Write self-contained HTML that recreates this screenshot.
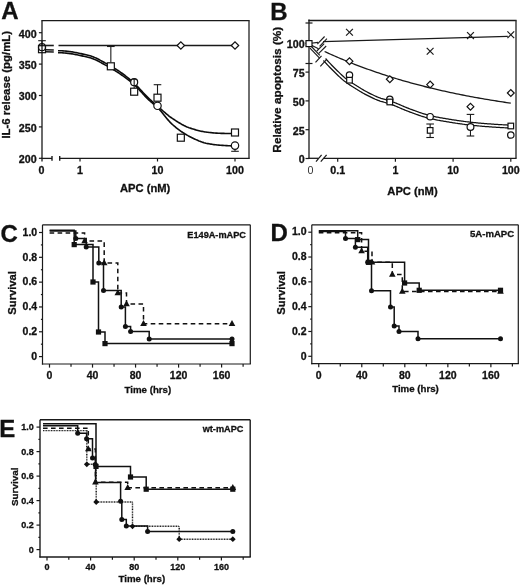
<!DOCTYPE html>
<html><head><meta charset="utf-8"><style>
html,body{margin:0;padding:0;background:#fff;}
svg{display:block;font-family:"Liberation Sans", sans-serif;filter:grayscale(1);}
</style></head><body>
<svg width="520" height="587" viewBox="0 0 520 587" font-family='"Liberation Sans", sans-serif'>
<rect width="520" height="587" fill="#fff"/>
<text x="1.20" y="19.40" font-size="24" text-anchor="start" font-weight="bold" fill="#111" stroke="#111" stroke-width="0.3" >A</text>
<line x1="41.40" y1="20.60" x2="249.60" y2="20.60" stroke="#1a1a1a" stroke-width="1.35" />
<line x1="249.00" y1="20.60" x2="249.00" y2="158.40" stroke="#333" stroke-width="1.4" />
<line x1="42.00" y1="20.60" x2="42.00" y2="161.50" stroke="#1a1a1a" stroke-width="1.3" />
<line x1="41.40" y1="158.40" x2="52.00" y2="158.40" stroke="#1a1a1a" stroke-width="1.3" />
<line x1="52.00" y1="156.00" x2="52.00" y2="160.80" stroke="#1a1a1a" stroke-width="1.4" />
<line x1="59.70" y1="158.40" x2="249.70" y2="158.40" stroke="#1a1a1a" stroke-width="1.3" />
<line x1="59.70" y1="156.00" x2="59.70" y2="160.80" stroke="#1a1a1a" stroke-width="1.4" />
<line x1="38.90" y1="32.70" x2="42.00" y2="32.70" stroke="#1a1a1a" stroke-width="1.2" />
<text x="36.60" y="37.60" font-size="10.7" text-anchor="end" font-weight="bold" fill="#111" stroke="#111" stroke-width="0.3" >400</text>
<line x1="38.90" y1="64.10" x2="42.00" y2="64.10" stroke="#1a1a1a" stroke-width="1.2" />
<text x="36.60" y="69.00" font-size="10.7" text-anchor="end" font-weight="bold" fill="#111" stroke="#111" stroke-width="0.3" >350</text>
<line x1="38.90" y1="95.50" x2="42.00" y2="95.50" stroke="#1a1a1a" stroke-width="1.2" />
<text x="36.60" y="100.40" font-size="10.7" text-anchor="end" font-weight="bold" fill="#111" stroke="#111" stroke-width="0.3" >300</text>
<line x1="38.90" y1="126.90" x2="42.00" y2="126.90" stroke="#1a1a1a" stroke-width="1.2" />
<text x="36.60" y="131.80" font-size="10.7" text-anchor="end" font-weight="bold" fill="#111" stroke="#111" stroke-width="0.3" >250</text>
<line x1="38.90" y1="158.30" x2="42.00" y2="158.30" stroke="#1a1a1a" stroke-width="1.2" />
<text x="36.60" y="163.20" font-size="10.7" text-anchor="end" font-weight="bold" fill="#111" stroke="#111" stroke-width="0.3" >200</text>
<line x1="80.00" y1="158.40" x2="80.00" y2="161.50" stroke="#1a1a1a" stroke-width="1.2" />
<text x="80.00" y="173.80" font-size="10.7" text-anchor="middle" font-weight="bold" fill="#111" stroke="#111" stroke-width="0.3" >1</text>
<line x1="157.50" y1="158.40" x2="157.50" y2="161.50" stroke="#1a1a1a" stroke-width="1.2" />
<text x="157.50" y="173.80" font-size="10.7" text-anchor="middle" font-weight="bold" fill="#111" stroke="#111" stroke-width="0.3" >10</text>
<line x1="235.00" y1="158.40" x2="235.00" y2="161.50" stroke="#1a1a1a" stroke-width="1.2" />
<text x="235.00" y="173.80" font-size="10.7" text-anchor="middle" font-weight="bold" fill="#111" stroke="#111" stroke-width="0.3" >100</text>
<text x="41.60" y="173.80" font-size="10.7" text-anchor="middle" font-weight="bold" fill="#111" stroke="#111" stroke-width="0.3" >0</text>
<text x="145.20" y="192.20" font-size="11.2" text-anchor="middle" font-weight="bold" fill="#111" stroke="#111" stroke-width="0.3" >APC (nM)</text>
<text transform="translate(9.50,84.80) rotate(-90)" font-size="11.4" text-anchor="middle" font-weight="bold" fill="#111" stroke="#111" stroke-width="0.3">IL-6 release (pg/mL)</text>
<polyline points="58.00,50.70 59.00,50.71 60.00,50.73 61.00,50.76 62.00,50.81 63.00,50.87 64.00,50.94 65.00,51.03 66.00,51.12 67.00,51.23 68.00,51.35 69.00,51.47 70.00,51.61 71.00,51.76 72.00,51.91 73.00,52.08 74.00,52.25 75.00,52.43 76.00,52.62 77.00,52.81 78.00,53.01 79.00,53.22 80.00,53.43 81.00,53.65 82.00,53.88 83.00,54.11 84.00,54.34 85.00,54.57 86.00,54.81 87.00,55.06 88.00,55.30 89.00,55.55 90.00,55.80 91.00,56.09 92.00,56.42 93.00,56.79 94.00,57.19 95.00,57.62 96.00,58.08 97.00,58.56 98.00,59.06 99.00,59.58 100.00,60.11 101.00,60.65 102.00,61.19 103.00,61.74 104.00,62.29 105.00,62.83 106.00,63.36 107.00,63.90 108.00,64.45 109.00,65.00 110.00,65.57 111.00,66.15 112.00,66.74 113.00,67.34 114.00,67.95 115.00,68.57 116.00,69.21 117.00,69.85 118.00,70.51 119.00,71.18 120.00,71.86 121.00,72.55 122.00,73.25 123.00,73.98 124.00,74.72 125.00,75.48 126.00,76.26 127.00,77.05 128.00,77.86 129.00,78.69 130.00,79.54 131.00,80.40 132.00,81.27 133.00,82.16 134.00,83.07 135.00,84.00 136.00,84.97 137.00,85.98 138.00,87.02 139.00,88.08 140.00,89.17 141.00,90.26 142.00,91.36 143.00,92.45 144.00,93.54 145.00,94.61 146.00,95.65 147.00,96.67 148.00,97.65 149.00,98.60 150.00,99.53 151.00,100.45 152.00,101.36 153.00,102.25 154.00,103.14 155.00,104.01 156.00,104.88 157.00,105.75 158.00,106.61 159.00,107.47 160.00,108.34 161.00,109.22 162.00,110.10 163.00,110.98 164.00,111.85 165.00,112.71 166.00,113.57 167.00,114.40 168.00,115.22 169.00,116.01 170.00,116.77 171.00,117.50 172.00,118.20 173.00,118.86 174.00,119.52 175.00,120.18 176.00,120.82 177.00,121.46 178.00,122.08 179.00,122.70 180.00,123.29 181.00,123.87 182.00,124.44 183.00,124.98 184.00,125.50 185.00,125.99 186.00,126.46 187.00,126.90 188.00,127.31 189.00,127.69 190.00,128.04 191.00,128.37 192.00,128.70 193.00,129.02 194.00,129.33 195.00,129.63 196.00,129.92 197.00,130.19 198.00,130.46 199.00,130.71 200.00,130.95 201.00,131.18 202.00,131.39 203.00,131.59 204.00,131.77 205.00,131.93 206.00,132.08 207.00,132.21 208.00,132.33 209.00,132.45 210.00,132.56 211.00,132.66 212.00,132.76 213.00,132.86 214.00,132.94 215.00,133.02 216.00,133.10 217.00,133.16 218.00,133.22 219.00,133.26 220.00,133.30 221.00,133.33 222.00,133.36 223.00,133.39 224.00,133.42 225.00,133.45 226.00,133.48 227.00,133.50 228.00,133.52 229.00,133.54 230.00,133.56 231.00,133.57 232.00,133.58 233.00,133.59 234.00,133.60 235.00,133.60" fill="none" stroke="#0d0d0d" stroke-width="1.6" stroke-linejoin="round"/>
<polyline points="58.00,52.70 59.00,52.71 60.00,52.73 61.00,52.76 62.00,52.81 63.00,52.87 64.00,52.94 65.00,53.03 66.00,53.12 67.00,53.23 68.00,53.35 69.00,53.47 70.00,53.61 71.00,53.76 72.00,53.91 73.00,54.08 74.00,54.25 75.00,54.43 76.00,54.62 77.00,54.81 78.00,55.01 79.00,55.22 80.00,55.43 81.00,55.65 82.00,55.88 83.00,56.11 84.00,56.34 85.00,56.57 86.00,56.81 87.00,57.06 88.00,57.30 89.00,57.55 90.00,57.80 91.00,58.09 92.00,58.42 93.00,58.79 94.00,59.19 95.00,59.62 96.00,60.08 97.00,60.56 98.00,61.06 99.00,61.58 100.00,62.11 101.00,62.65 102.00,63.19 103.00,63.74 104.00,64.29 105.00,64.83 106.00,65.36 107.00,65.90 108.00,66.45 109.00,67.01 110.00,67.59 111.00,68.17 112.00,68.76 113.00,69.37 114.00,69.98 115.00,70.61 116.00,71.24 117.00,71.89 118.00,72.54 119.00,73.21 120.00,73.88 121.00,74.56 122.00,75.25 123.00,75.94 124.00,76.65 125.00,77.38 126.00,78.11 127.00,78.86 128.00,79.62 129.00,80.40 130.00,81.20 131.00,82.01 132.00,82.85 133.00,83.70 134.00,84.57 135.00,85.48 136.00,86.43 137.00,87.43 138.00,88.47 139.00,89.53 140.00,90.62 141.00,91.72 142.00,92.82 143.00,93.92 144.00,95.02 145.00,96.09 146.00,97.15 147.00,98.17 148.00,99.15 149.00,100.09 150.00,100.99 151.00,101.87 152.00,102.73 153.00,103.58 154.00,104.43 155.00,105.30 156.00,106.18 157.00,107.10 158.00,108.05 159.00,109.06 160.00,110.14 161.00,111.29 162.00,112.47 163.00,113.70 164.00,114.94 165.00,116.20 166.00,117.45 167.00,118.68 168.00,119.88 169.00,121.04 170.00,122.15 171.00,123.18 172.00,124.13 173.00,125.01 174.00,125.86 175.00,126.70 176.00,127.51 177.00,128.31 178.00,129.08 179.00,129.84 180.00,130.57 181.00,131.28 182.00,131.97 183.00,132.64 184.00,133.29 185.00,133.92 186.00,134.52 187.00,135.10 188.00,135.66 189.00,136.19 190.00,136.70 191.00,137.21 192.00,137.71 193.00,138.20 194.00,138.69 195.00,139.16 196.00,139.63 197.00,140.08 198.00,140.51 199.00,140.93 200.00,141.32 201.00,141.70 202.00,142.06 203.00,142.38 204.00,142.69 205.00,142.96 206.00,143.21 207.00,143.42 208.00,143.61 209.00,143.80 210.00,143.98 211.00,144.14 212.00,144.30 213.00,144.45 214.00,144.59 215.00,144.71 216.00,144.83 217.00,144.94 218.00,145.04 219.00,145.12 220.00,145.20 221.00,145.27 222.00,145.34 223.00,145.41 224.00,145.47 225.00,145.54 226.00,145.60 227.00,145.66 228.00,145.71 229.00,145.76 230.00,145.80 231.00,145.83 232.00,145.86 233.00,145.88 234.00,145.90 235.00,145.90" fill="none" stroke="#0d0d0d" stroke-width="1.6" stroke-linejoin="round"/>
<line x1="45.50" y1="49.70" x2="53.80" y2="50.00" stroke="#1a1a1a" stroke-width="1.5" />
<line x1="45.50" y1="51.70" x2="53.80" y2="52.00" stroke="#1a1a1a" stroke-width="1.5" />
<line x1="45.50" y1="45.50" x2="53.80" y2="45.50" stroke="#1a1a1a" stroke-width="1.6" />
<line x1="58.50" y1="45.50" x2="235.00" y2="45.50" stroke="#1a1a1a" stroke-width="1.6" />
<line x1="110.84" y1="62.50" x2="110.84" y2="46.50" stroke="#1a1a1a" stroke-width="1.1" />
<line x1="107.04" y1="46.50" x2="114.64" y2="46.50" stroke="#1a1a1a" stroke-width="1.1" />
<line x1="157.50" y1="94.50" x2="157.50" y2="84.70" stroke="#1a1a1a" stroke-width="1.1" />
<line x1="153.70" y1="84.70" x2="161.30" y2="84.70" stroke="#1a1a1a" stroke-width="1.1" />
<line x1="42.00" y1="46.00" x2="42.00" y2="40.70" stroke="#1a1a1a" stroke-width="1.1" />
<line x1="38.20" y1="40.70" x2="45.80" y2="40.70" stroke="#1a1a1a" stroke-width="1.1" />
<line x1="235.00" y1="148.00" x2="235.00" y2="151.30" stroke="#1a1a1a" stroke-width="1.1" />
<line x1="231.20" y1="151.30" x2="238.80" y2="151.30" stroke="#1a1a1a" stroke-width="1.1" />
<path d="M177.13,45.50 L180.83,41.80 L184.53,45.50 L180.83,49.20 Z" fill="#fff" stroke="#111" stroke-width="1.2"/>
<path d="M231.30,45.50 L235.00,41.80 L238.70,45.50 L235.00,49.20 Z" fill="#fff" stroke="#111" stroke-width="1.2"/>
<circle cx="42.00" cy="47.20" r="3.5" fill="none" stroke="#111" stroke-width="1.2"/>
<rect x="38.50" y="45.70" width="7" height="7" fill="none" stroke="#111" stroke-width="1.2"/>
<rect x="107.34" y="62.80" width="7" height="7" fill="#fff" stroke="#111" stroke-width="1.2"/>
<circle cx="134.17" cy="82.20" r="3.5" fill="#fff" stroke="#111" stroke-width="1.2"/>
<rect x="130.67" y="88.20" width="7" height="7" fill="#fff" stroke="#111" stroke-width="1.2"/>
<line x1="134.17" y1="88.20" x2="134.17" y2="79.20" stroke="#1a1a1a" stroke-width="1.1" />
<line x1="132.37" y1="79.20" x2="135.97" y2="79.20" stroke="#1a1a1a" stroke-width="1.1" />
<rect x="154.00" y="94.20" width="7" height="7" fill="#fff" stroke="#111" stroke-width="1.2"/>
<circle cx="157.50" cy="105.80" r="3.7" fill="#fff" stroke="#111" stroke-width="1.2"/>
<rect x="177.33" y="134.20" width="7" height="7" fill="#fff" stroke="#111" stroke-width="1.2"/>
<rect x="231.50" y="129.00" width="7" height="7" fill="#fff" stroke="#111" stroke-width="1.2"/>
<circle cx="235.00" cy="145.60" r="3.7" fill="#fff" stroke="#111" stroke-width="1.2"/>
<text x="270.20" y="19.90" font-size="24" text-anchor="start" font-weight="bold" fill="#111" stroke="#111" stroke-width="0.3" >B</text>
<line x1="308.40" y1="20.50" x2="516.60" y2="20.50" stroke="#1a1a1a" stroke-width="1.35" />
<line x1="516.00" y1="20.50" x2="516.00" y2="158.30" stroke="#333" stroke-width="1.4" />
<line x1="309.00" y1="19.50" x2="309.00" y2="158.90" stroke="#1a1a1a" stroke-width="1.3" />
<line x1="308.40" y1="158.30" x2="318.50" y2="158.30" stroke="#1a1a1a" stroke-width="1.3" />
<line x1="323.50" y1="158.30" x2="516.60" y2="158.30" stroke="#1a1a1a" stroke-width="1.3" />
<line x1="316.00" y1="161.70" x2="321.60" y2="154.80" stroke="#1a1a1a" stroke-width="1.2" />
<line x1="320.80" y1="161.70" x2="326.60" y2="154.80" stroke="#1a1a1a" stroke-width="1.2" />
<line x1="305.50" y1="158.50" x2="309.00" y2="158.50" stroke="#1a1a1a" stroke-width="1.2" />
<text x="304.60" y="163.40" font-size="10.7" text-anchor="end" font-weight="bold" fill="#111" stroke="#111" stroke-width="0.3" >0</text>
<line x1="305.50" y1="129.70" x2="309.00" y2="129.70" stroke="#1a1a1a" stroke-width="1.2" />
<text x="304.60" y="134.60" font-size="10.7" text-anchor="end" font-weight="bold" fill="#111" stroke="#111" stroke-width="0.3" >25</text>
<line x1="305.50" y1="100.90" x2="309.00" y2="100.90" stroke="#1a1a1a" stroke-width="1.2" />
<text x="304.60" y="105.80" font-size="10.7" text-anchor="end" font-weight="bold" fill="#111" stroke="#111" stroke-width="0.3" >50</text>
<line x1="305.50" y1="72.10" x2="309.00" y2="72.10" stroke="#1a1a1a" stroke-width="1.2" />
<text x="304.60" y="77.00" font-size="10.7" text-anchor="end" font-weight="bold" fill="#111" stroke="#111" stroke-width="0.3" >75</text>
<line x1="305.50" y1="43.30" x2="309.00" y2="43.30" stroke="#1a1a1a" stroke-width="1.2" />
<text x="304.60" y="48.20" font-size="10.7" text-anchor="end" font-weight="bold" fill="#111" stroke="#111" stroke-width="0.3" >100</text>
<line x1="305.50" y1="23.00" x2="312.50" y2="23.00" stroke="#1a1a1a" stroke-width="1.2" />
<line x1="305.50" y1="63.50" x2="312.50" y2="63.50" stroke="#1a1a1a" stroke-width="1.2" />
<line x1="337.70" y1="158.30" x2="337.70" y2="161.80" stroke="#1a1a1a" stroke-width="1.2" />
<text x="337.70" y="173.80" font-size="10.7" text-anchor="middle" font-weight="bold" fill="#111" stroke="#111" stroke-width="0.3" >0.1</text>
<line x1="395.40" y1="158.30" x2="395.40" y2="161.80" stroke="#1a1a1a" stroke-width="1.2" />
<text x="395.40" y="173.80" font-size="10.7" text-anchor="middle" font-weight="bold" fill="#111" stroke="#111" stroke-width="0.3" >1</text>
<line x1="453.10" y1="158.30" x2="453.10" y2="161.80" stroke="#1a1a1a" stroke-width="1.2" />
<text x="453.10" y="173.80" font-size="10.7" text-anchor="middle" font-weight="bold" fill="#111" stroke="#111" stroke-width="0.3" >10</text>
<line x1="510.80" y1="158.30" x2="510.80" y2="161.80" stroke="#1a1a1a" stroke-width="1.2" />
<text x="510.80" y="173.80" font-size="10.7" text-anchor="middle" font-weight="bold" fill="#111" stroke="#111" stroke-width="0.3" >100</text>
<text x="310.50" y="173.60" font-size="10.7" text-anchor="middle" font-weight="normal" fill="#333" stroke="#333" stroke-width="0" >0</text>
<text x="412.50" y="195.00" font-size="11.2" text-anchor="middle" font-weight="bold" fill="#111" stroke="#111" stroke-width="0.3" >APC (nM)</text>
<text transform="translate(280.60,89.70) rotate(-90)" font-size="11.8" text-anchor="middle" font-weight="bold" fill="#111" stroke="#111" stroke-width="0.3">Relative apoptosis (%)</text>
<line x1="309.00" y1="43.50" x2="318.00" y2="42.30" stroke="#1a1a1a" stroke-width="1.2" />
<line x1="323.00" y1="41.70" x2="507.80" y2="36.40" stroke="#1a1a1a" stroke-width="1.3" />
<line x1="317.30" y1="44.20" x2="324.60" y2="36.50" stroke="#1a1a1a" stroke-width="1.1" />
<line x1="319.60" y1="46.40" x2="326.90" y2="38.70" stroke="#1a1a1a" stroke-width="1.1" />
<line x1="309.00" y1="44.00" x2="318.50" y2="48.80" stroke="#1a1a1a" stroke-width="1.2" />
<line x1="316.80" y1="51.00" x2="324.20" y2="43.60" stroke="#1a1a1a" stroke-width="1.1" />
<line x1="318.80" y1="53.40" x2="326.20" y2="46.00" stroke="#1a1a1a" stroke-width="1.1" />
<polyline points="324.60,51.51 326.60,52.43 328.60,53.34 330.60,54.24 332.60,55.13 334.60,56.01 336.60,56.88 338.60,57.74 340.60,58.59 342.60,59.43 344.60,60.26 346.60,61.08 348.60,61.89 350.60,62.69 352.60,63.49 354.60,64.27 356.60,65.05 358.60,65.81 360.60,66.57 362.60,67.32 364.60,68.06 366.60,68.79 368.60,69.51 370.60,70.22 372.60,70.93 374.60,71.63 376.60,72.31 378.60,72.99 380.60,73.66 382.60,74.33 384.60,74.98 386.60,75.63 388.60,76.27 390.60,76.90 392.60,77.52 394.60,78.14 396.60,78.75 398.60,79.35 400.60,79.94 402.60,80.53 404.60,81.11 406.60,81.68 408.60,82.24 410.60,82.80 412.60,83.35 414.60,83.89 416.60,84.42 418.60,84.95 420.60,85.47 422.60,85.99 424.60,86.50 426.60,87.00 428.60,87.50 430.60,87.99 432.60,88.47 434.60,88.94 436.60,89.41 438.60,89.88 440.60,90.34 442.60,90.79 444.60,91.24 446.60,91.68 448.60,92.11 450.60,92.54 452.60,92.96 454.60,93.38 456.60,93.79 458.60,94.20 460.60,94.60 462.60,95.00 464.60,95.39 466.60,95.78 468.60,96.16 470.60,96.53 472.60,96.91 474.60,97.27 476.60,97.63 478.60,97.99 480.60,98.34 482.60,98.69 484.60,99.03 486.60,99.37 488.60,99.71 490.60,100.04 492.60,100.37 494.60,100.69 496.60,101.01 498.60,101.32 500.60,101.63 502.60,101.94 504.60,102.24 506.60,102.54 508.60,102.84 510.60,103.13 510.80,103.16" fill="none" stroke="#1a1a1a" stroke-width="1.3" />
<polyline points="325.58,58.53 326.57,59.63 327.57,60.72 328.56,61.80 329.56,62.86 330.55,63.91 331.54,64.95 332.54,65.98 333.53,66.99 334.52,67.99 335.52,68.98 336.51,69.95 337.52,70.94 338.51,71.91 339.51,72.88 340.50,73.83 341.49,74.77 342.48,75.69 343.46,76.57 344.44,77.43 345.42,78.25 346.39,79.02 347.36,79.76 348.34,80.47 349.32,81.15 350.30,81.81 351.29,82.46 352.28,83.09 353.27,83.71 354.27,84.33 355.27,84.96 356.27,85.59 357.27,86.21 358.27,86.84 359.26,87.46 360.26,88.07 361.25,88.68 362.24,89.27 363.23,89.86 364.22,90.43 365.21,90.99 366.19,91.53 367.17,92.06 368.16,92.57 369.16,93.08 370.15,93.58 371.14,94.07 372.13,94.56 373.12,95.04 374.11,95.50 375.10,95.95 376.08,96.39 377.06,96.81 378.04,97.21 379.02,97.59 379.99,97.96 380.96,98.30 381.93,98.61 382.90,98.90 383.88,99.17 384.87,99.44 385.87,99.71 386.88,99.98 387.90,100.26 388.92,100.56 389.95,100.89 390.98,101.24 391.99,101.60 393.01,101.97 394.02,102.36 395.04,102.76 396.05,103.17 397.06,103.58 398.06,104.00 399.07,104.43 400.07,104.86 401.07,105.29 402.07,105.72 403.07,106.15 404.07,106.57 405.06,106.99 406.05,107.40 407.04,107.81 408.03,108.20 409.02,108.59 410.00,108.96 411.00,109.32 412.00,109.69 413.00,110.05 414.00,110.42 415.00,110.78 416.00,111.15 416.99,111.51 417.99,111.87 418.98,112.22 419.97,112.56 420.97,112.90 421.96,113.24 422.95,113.56 423.93,113.87 424.92,114.18 425.91,114.47 426.89,114.75 427.87,115.02 428.85,115.27 429.84,115.51 430.83,115.74 431.82,115.97 432.81,116.19 433.80,116.41 434.80,116.62 435.79,116.82 436.78,117.02 437.77,117.21 438.77,117.40 439.76,117.59 440.76,117.77 441.75,117.95 442.75,118.12 443.75,118.30 444.74,118.47 445.74,118.63 446.74,118.80 447.73,118.96 448.73,119.13 449.73,119.29 450.73,119.45 451.73,119.61 452.73,119.77 453.72,119.92 454.72,120.08 455.72,120.23 456.72,120.38 457.71,120.53 458.71,120.68 459.71,120.82 460.70,120.96 461.70,121.10 462.69,121.24 463.69,121.37 464.69,121.50 465.68,121.63 466.68,121.75 467.67,121.87 468.67,121.99 469.66,122.10 470.66,122.21 471.65,122.32 472.65,122.43 473.65,122.53 474.65,122.63 475.64,122.73 476.64,122.83 477.64,122.92 478.63,123.02 479.63,123.11 480.63,123.20 481.63,123.29 482.62,123.37 483.62,123.46 484.62,123.54 485.61,123.62 486.61,123.70 487.61,123.77 488.61,123.85 489.60,123.92 490.60,123.99 491.60,124.06 492.60,124.13 493.60,124.19 494.60,124.26 495.59,124.33 496.59,124.39 497.59,124.45 498.59,124.51 499.59,124.58 500.58,124.63 501.58,124.69 502.58,124.75 503.58,124.80 504.58,124.86 505.57,124.91 506.57,124.96 507.57,125.01 508.57,125.05 509.56,125.10 510.56,125.14" fill="none" stroke="#111" stroke-width="1.25" stroke-linejoin="round"/>
<polyline points="323.42,60.47 324.43,61.58 325.43,62.68 326.44,63.77 327.44,64.85 328.45,65.91 329.46,66.96 330.46,68.00 331.47,69.03 332.48,70.04 333.48,71.04 334.49,72.03 335.48,73.01 336.49,73.99 337.49,74.96 338.50,75.93 339.51,76.89 340.52,77.83 341.54,78.74 342.56,79.63 343.58,80.49 344.61,81.31 345.64,82.09 346.66,82.84 347.68,83.55 348.70,84.23 349.71,84.89 350.72,85.54 351.73,86.17 352.73,86.80 353.73,87.42 354.73,88.04 355.73,88.67 356.73,89.30 357.74,89.92 358.74,90.54 359.75,91.16 360.76,91.76 361.77,92.36 362.78,92.95 363.79,93.52 364.81,94.08 365.83,94.62 366.84,95.15 367.84,95.66 368.85,96.17 369.86,96.67 370.87,97.17 371.88,97.65 372.89,98.13 373.90,98.59 374.92,99.05 375.94,99.48 376.96,99.90 377.98,100.30 379.01,100.68 380.04,101.05 381.07,101.38 382.10,101.68 383.12,101.97 384.13,102.24 385.13,102.51 386.12,102.78 387.10,103.05 388.08,103.34 389.05,103.64 390.02,103.98 391.01,104.32 391.99,104.69 392.98,105.06 393.96,105.45 394.95,105.85 395.94,106.26 396.94,106.68 397.93,107.10 398.93,107.52 399.93,107.95 400.93,108.38 401.93,108.81 402.93,109.24 403.94,109.66 404.95,110.08 405.96,110.50 406.97,110.90 407.98,111.29 409.00,111.68 410.00,112.04 411.00,112.41 412.00,112.77 413.00,113.14 414.00,113.51 415.00,113.87 416.01,114.24 417.01,114.60 418.02,114.95 419.03,115.31 420.03,115.65 421.04,115.99 422.05,116.32 423.07,116.64 424.08,116.95 425.09,117.25 426.11,117.54 427.13,117.82 428.15,118.08 429.16,118.33 430.17,118.57 431.18,118.80 432.19,119.02 433.20,119.24 434.20,119.46 435.21,119.66 436.22,119.86 437.23,120.06 438.23,120.25 439.24,120.44 440.24,120.62 441.25,120.80 442.25,120.98 443.25,121.15 444.26,121.33 445.26,121.49 446.26,121.66 447.27,121.83 448.27,121.99 449.27,122.15 450.27,122.31 451.27,122.47 452.27,122.63 453.28,122.79 454.28,122.94 455.28,123.10 456.28,123.25 457.29,123.40 458.29,123.55 459.29,123.69 460.30,123.84 461.30,123.98 462.31,124.11 463.31,124.25 464.31,124.38 465.32,124.51 466.32,124.63 467.33,124.75 468.33,124.87 469.34,124.99 470.34,125.10 471.35,125.20 472.35,125.31 473.35,125.41 474.35,125.52 475.36,125.62 476.36,125.71 477.36,125.81 478.37,125.90 479.37,126.00 480.37,126.09 481.37,126.18 482.38,126.26 483.38,126.35 484.38,126.43 485.39,126.51 486.39,126.59 487.39,126.66 488.39,126.74 489.40,126.81 490.40,126.88 491.40,126.95 492.40,127.02 493.40,127.09 494.40,127.15 495.41,127.22 496.41,127.28 497.41,127.35 498.41,127.41 499.41,127.47 500.42,127.53 501.42,127.59 502.42,127.64 503.42,127.70 504.42,127.75 505.43,127.80 506.43,127.85 507.43,127.90 508.43,127.95 509.44,127.99 510.44,128.04" fill="none" stroke="#111" stroke-width="1.25" stroke-linejoin="round"/>
<line x1="310.50" y1="45.50" x2="319.80" y2="55.40" stroke="#1a1a1a" stroke-width="1.2" />
<line x1="310.00" y1="48.20" x2="319.60" y2="58.20" stroke="#1a1a1a" stroke-width="1.2" />
<line x1="315.50" y1="62.30" x2="321.50" y2="55.80" stroke="#1a1a1a" stroke-width="1.15" />
<line x1="320.30" y1="66.40" x2="326.50" y2="59.60" stroke="#1a1a1a" stroke-width="1.15" />
<rect x="306.00" y="40.60" width="6" height="6" fill="#fff" stroke="#111" stroke-width="1.2"/>
<line x1="346.08" y1="28.90" x2="352.88" y2="35.70" stroke="#1a1a1a" stroke-width="1.2" />
<line x1="346.08" y1="35.70" x2="352.88" y2="28.90" stroke="#1a1a1a" stroke-width="1.2" />
<line x1="426.74" y1="47.90" x2="433.54" y2="54.70" stroke="#1a1a1a" stroke-width="1.2" />
<line x1="426.74" y1="54.70" x2="433.54" y2="47.90" stroke="#1a1a1a" stroke-width="1.2" />
<line x1="467.07" y1="32.20" x2="473.87" y2="39.00" stroke="#1a1a1a" stroke-width="1.2" />
<line x1="467.07" y1="39.00" x2="473.87" y2="32.20" stroke="#1a1a1a" stroke-width="1.2" />
<line x1="507.40" y1="31.40" x2="514.20" y2="38.20" stroke="#1a1a1a" stroke-width="1.2" />
<line x1="507.40" y1="38.20" x2="514.20" y2="31.40" stroke="#1a1a1a" stroke-width="1.2" />
<path d="M346.08,61.20 L349.48,57.80 L352.88,61.20 L349.48,64.60 Z" fill="#fff" stroke="#111" stroke-width="1.2"/>
<path d="M386.41,79.20 L389.81,75.80 L393.21,79.20 L389.81,82.60 Z" fill="#fff" stroke="#111" stroke-width="1.2"/>
<path d="M426.74,84.60 L430.14,81.20 L433.54,84.60 L430.14,88.00 Z" fill="#fff" stroke="#111" stroke-width="1.2"/>
<path d="M467.07,106.70 L470.47,103.30 L473.87,106.70 L470.47,110.10 Z" fill="#fff" stroke="#111" stroke-width="1.2"/>
<path d="M507.40,93.00 L510.80,89.60 L514.20,93.00 L510.80,96.40 Z" fill="#fff" stroke="#111" stroke-width="1.2"/>
<circle cx="349.48" cy="75.00" r="3.2" fill="#fff" stroke="#111" stroke-width="1.2"/>
<rect x="346.68" y="77.40" width="5.6" height="5.6" fill="#fff" stroke="#111" stroke-width="1.2"/>
<circle cx="389.81" cy="99.40" r="3.2" fill="#fff" stroke="#111" stroke-width="1.2"/>
<rect x="387.01" y="99.20" width="5.6" height="5.6" fill="#fff" stroke="#111" stroke-width="1.2"/>
<circle cx="430.14" cy="116.70" r="3.2" fill="#fff" stroke="#111" stroke-width="1.2"/>
<line x1="430.14" y1="130.40" x2="430.14" y2="124.00" stroke="#1a1a1a" stroke-width="1.1" />
<line x1="426.34" y1="124.00" x2="433.94" y2="124.00" stroke="#1a1a1a" stroke-width="1.1" />
<line x1="430.14" y1="130.40" x2="430.14" y2="137.50" stroke="#1a1a1a" stroke-width="1.1" />
<line x1="426.34" y1="137.50" x2="433.94" y2="137.50" stroke="#1a1a1a" stroke-width="1.1" />
<rect x="427.34" y="127.60" width="5.6" height="5.6" fill="#fff" stroke="#111" stroke-width="1.2"/>
<line x1="470.47" y1="127.00" x2="470.47" y2="114.40" stroke="#1a1a1a" stroke-width="1.1" />
<line x1="466.67" y1="114.40" x2="474.27" y2="114.40" stroke="#1a1a1a" stroke-width="1.1" />
<line x1="470.47" y1="127.00" x2="470.47" y2="136.00" stroke="#1a1a1a" stroke-width="1.1" />
<line x1="466.67" y1="136.00" x2="474.27" y2="136.00" stroke="#1a1a1a" stroke-width="1.1" />
<circle cx="470.47" cy="127.00" r="3.4" fill="#fff" stroke="#111" stroke-width="1.2"/>
<rect x="508.00" y="123.20" width="5.6" height="5.6" fill="#fff" stroke="#111" stroke-width="1.2"/>
<circle cx="510.80" cy="135.00" r="3.2" fill="#fff" stroke="#111" stroke-width="1.2"/>
<line x1="42.50" y1="224.80" x2="250.30" y2="224.80" stroke="#1a1a1a" stroke-width="1.2" />
<line x1="250.30" y1="224.80" x2="250.30" y2="364.00" stroke="#1a1a1a" stroke-width="1.2" />
<line x1="42.50" y1="224.80" x2="42.50" y2="364.60" stroke="#1a1a1a" stroke-width="1.2" />
<line x1="41.90" y1="364.00" x2="250.90" y2="364.00" stroke="#1a1a1a" stroke-width="1.2" />
<text x="0.50" y="241.90" font-size="24" text-anchor="start" font-weight="bold" fill="#111" stroke="#111" stroke-width="0.3" >C</text>
<line x1="39.00" y1="356.60" x2="42.50" y2="356.60" stroke="#1a1a1a" stroke-width="1.2" />
<text x="37.20" y="359.80" font-size="10.5" text-anchor="end" font-weight="bold" fill="#111" stroke="#111" stroke-width="0.3" >0</text>
<line x1="40.90" y1="344.19" x2="42.50" y2="344.19" stroke="#1a1a1a" stroke-width="1.2" />
<line x1="39.00" y1="331.78" x2="42.50" y2="331.78" stroke="#1a1a1a" stroke-width="1.2" />
<text x="37.20" y="334.98" font-size="10.5" text-anchor="end" font-weight="bold" fill="#111" stroke="#111" stroke-width="0.3" >0.2</text>
<line x1="40.90" y1="319.37" x2="42.50" y2="319.37" stroke="#1a1a1a" stroke-width="1.2" />
<line x1="39.00" y1="306.96" x2="42.50" y2="306.96" stroke="#1a1a1a" stroke-width="1.2" />
<text x="37.20" y="310.16" font-size="10.5" text-anchor="end" font-weight="bold" fill="#111" stroke="#111" stroke-width="0.3" >0.4</text>
<line x1="40.90" y1="294.55" x2="42.50" y2="294.55" stroke="#1a1a1a" stroke-width="1.2" />
<line x1="39.00" y1="282.14" x2="42.50" y2="282.14" stroke="#1a1a1a" stroke-width="1.2" />
<text x="37.20" y="285.34" font-size="10.5" text-anchor="end" font-weight="bold" fill="#111" stroke="#111" stroke-width="0.3" >0.6</text>
<line x1="40.90" y1="269.73" x2="42.50" y2="269.73" stroke="#1a1a1a" stroke-width="1.2" />
<line x1="39.00" y1="257.32" x2="42.50" y2="257.32" stroke="#1a1a1a" stroke-width="1.2" />
<text x="37.20" y="260.52" font-size="10.5" text-anchor="end" font-weight="bold" fill="#111" stroke="#111" stroke-width="0.3" >0.8</text>
<line x1="40.90" y1="244.91" x2="42.50" y2="244.91" stroke="#1a1a1a" stroke-width="1.2" />
<line x1="39.00" y1="232.50" x2="42.50" y2="232.50" stroke="#1a1a1a" stroke-width="1.2" />
<text x="37.20" y="235.70" font-size="10.5" text-anchor="end" font-weight="bold" fill="#111" stroke="#111" stroke-width="0.3" >1.0</text>
<line x1="49.50" y1="364.00" x2="49.50" y2="367.60" stroke="#1a1a1a" stroke-width="1.2" />
<text x="49.50" y="378.60" font-size="10.5" text-anchor="middle" font-weight="bold" fill="#111" stroke="#111" stroke-width="0.3" >0</text>
<line x1="71.01" y1="364.00" x2="71.01" y2="366.80" stroke="#1a1a1a" stroke-width="1.2" />
<line x1="92.52" y1="364.00" x2="92.52" y2="367.60" stroke="#1a1a1a" stroke-width="1.2" />
<text x="92.52" y="378.60" font-size="10.5" text-anchor="middle" font-weight="bold" fill="#111" stroke="#111" stroke-width="0.3" >40</text>
<line x1="114.04" y1="364.00" x2="114.04" y2="366.80" stroke="#1a1a1a" stroke-width="1.2" />
<line x1="135.55" y1="364.00" x2="135.55" y2="367.60" stroke="#1a1a1a" stroke-width="1.2" />
<text x="135.55" y="378.60" font-size="10.5" text-anchor="middle" font-weight="bold" fill="#111" stroke="#111" stroke-width="0.3" >80</text>
<line x1="157.06" y1="364.00" x2="157.06" y2="366.80" stroke="#1a1a1a" stroke-width="1.2" />
<line x1="178.57" y1="364.00" x2="178.57" y2="367.60" stroke="#1a1a1a" stroke-width="1.2" />
<text x="178.57" y="378.60" font-size="10.5" text-anchor="middle" font-weight="bold" fill="#111" stroke="#111" stroke-width="0.3" >120</text>
<line x1="200.08" y1="364.00" x2="200.08" y2="366.80" stroke="#1a1a1a" stroke-width="1.2" />
<line x1="221.60" y1="364.00" x2="221.60" y2="367.60" stroke="#1a1a1a" stroke-width="1.2" />
<text x="221.60" y="378.60" font-size="10.5" text-anchor="middle" font-weight="bold" fill="#111" stroke="#111" stroke-width="0.3" >160</text>
<line x1="243.11" y1="364.00" x2="243.11" y2="366.80" stroke="#1a1a1a" stroke-width="1.2" />
<text x="246.00" y="238.00" font-size="9.2" text-anchor="end" font-weight="bold" fill="#111" stroke="#111" stroke-width="0.3" >E149A-mAPC</text>
<text transform="translate(15.70,292.90) rotate(-90)" font-size="11.2" text-anchor="middle" font-weight="bold" fill="#111" stroke="#111" stroke-width="0.3">Survival</text>
<text x="147.90" y="392.50" font-size="9.7" text-anchor="middle" font-weight="bold" fill="#111" stroke="#111" stroke-width="0.3" >Time (hrs)</text>
<polyline points="49.60,232.90 84.60,232.90 84.60,241.00 104.20,241.00 104.20,263.00 117.80,263.00 117.80,293.00 126.50,293.00 126.50,304.00 143.50,304.00 143.50,323.80 232.00,323.80 232.00,323.80" fill="none" stroke="#111" stroke-width="1.5" stroke-dasharray="4.6,3.4"/>
<path d="M81.30,243.14 L84.60,237.20 L87.90,243.14 Z" fill="#111" stroke="none"/>
<path d="M100.90,265.14 L104.20,259.20 L107.50,265.14 Z" fill="#111" stroke="none"/>
<path d="M114.50,295.14 L117.80,289.20 L121.10,295.14 Z" fill="#111" stroke="none"/>
<path d="M123.20,306.14 L126.50,300.20 L129.80,306.14 Z" fill="#111" stroke="none"/>
<path d="M140.20,325.94 L143.50,320.00 L146.80,325.94 Z" fill="#111" stroke="none"/>
<path d="M228.70,325.94 L232.00,320.00 L235.30,325.94 Z" fill="#111" stroke="none"/>
<polyline points="49.60,231.10 75.80,231.10 75.80,238.40 86.20,238.40 86.20,246.90 98.80,246.90 98.80,263.00 103.50,263.00 103.50,290.50 121.20,290.50 121.20,307.00 125.40,307.00 125.40,326.60 130.60,326.60 130.60,331.50 149.20,331.50 149.20,339.00 232.00,339.00 232.00,339.00" fill="none" stroke="#111" stroke-width="1.5" />
<circle cx="75.80" cy="238.40" r="2.5" fill="#111" stroke="#111" stroke-width="0"/>
<circle cx="86.20" cy="246.90" r="2.5" fill="#111" stroke="#111" stroke-width="0"/>
<circle cx="98.80" cy="263.00" r="2.5" fill="#111" stroke="#111" stroke-width="0"/>
<circle cx="103.50" cy="290.50" r="2.5" fill="#111" stroke="#111" stroke-width="0"/>
<circle cx="121.20" cy="307.00" r="2.5" fill="#111" stroke="#111" stroke-width="0"/>
<circle cx="125.40" cy="326.60" r="2.5" fill="#111" stroke="#111" stroke-width="0"/>
<circle cx="130.60" cy="331.50" r="2.5" fill="#111" stroke="#111" stroke-width="0"/>
<circle cx="149.20" cy="339.00" r="2.5" fill="#111" stroke="#111" stroke-width="0"/>
<circle cx="232.00" cy="339.00" r="2.5" fill="#111" stroke="#111" stroke-width="0"/>
<polyline points="49.60,230.20 74.20,230.20 74.20,244.60 93.00,244.60 93.00,282.00 98.50,282.00 98.50,332.00 105.00,332.00 105.00,343.60 232.00,343.60 232.00,343.60" fill="none" stroke="#111" stroke-width="1.5" />
<rect x="71.60" y="242.00" width="5.2" height="5.2" fill="#111" stroke="#111" stroke-width="0"/>
<rect x="90.40" y="279.40" width="5.2" height="5.2" fill="#111" stroke="#111" stroke-width="0"/>
<rect x="95.90" y="329.40" width="5.2" height="5.2" fill="#111" stroke="#111" stroke-width="0"/>
<rect x="102.40" y="341.00" width="5.2" height="5.2" fill="#111" stroke="#111" stroke-width="0"/>
<rect x="229.40" y="341.00" width="5.2" height="5.2" fill="#111" stroke="#111" stroke-width="0"/>
<line x1="311.80" y1="224.80" x2="518.30" y2="224.80" stroke="#1a1a1a" stroke-width="1.2" />
<line x1="518.30" y1="224.80" x2="518.30" y2="363.70" stroke="#1a1a1a" stroke-width="1.2" />
<line x1="311.80" y1="224.80" x2="311.80" y2="364.30" stroke="#1a1a1a" stroke-width="1.2" />
<line x1="311.20" y1="363.70" x2="518.90" y2="363.70" stroke="#1a1a1a" stroke-width="1.2" />
<text x="270.50" y="241.20" font-size="24" text-anchor="start" font-weight="bold" fill="#111" stroke="#111" stroke-width="0.3" >D</text>
<line x1="308.30" y1="356.30" x2="311.80" y2="356.30" stroke="#1a1a1a" stroke-width="1.2" />
<text x="306.60" y="359.50" font-size="10.5" text-anchor="end" font-weight="bold" fill="#111" stroke="#111" stroke-width="0.3" >0</text>
<line x1="310.20" y1="343.89" x2="311.80" y2="343.89" stroke="#1a1a1a" stroke-width="1.2" />
<line x1="308.30" y1="331.48" x2="311.80" y2="331.48" stroke="#1a1a1a" stroke-width="1.2" />
<text x="306.60" y="334.68" font-size="10.5" text-anchor="end" font-weight="bold" fill="#111" stroke="#111" stroke-width="0.3" >0.2</text>
<line x1="310.20" y1="319.07" x2="311.80" y2="319.07" stroke="#1a1a1a" stroke-width="1.2" />
<line x1="308.30" y1="306.66" x2="311.80" y2="306.66" stroke="#1a1a1a" stroke-width="1.2" />
<text x="306.60" y="309.86" font-size="10.5" text-anchor="end" font-weight="bold" fill="#111" stroke="#111" stroke-width="0.3" >0.4</text>
<line x1="310.20" y1="294.25" x2="311.80" y2="294.25" stroke="#1a1a1a" stroke-width="1.2" />
<line x1="308.30" y1="281.84" x2="311.80" y2="281.84" stroke="#1a1a1a" stroke-width="1.2" />
<text x="306.60" y="285.04" font-size="10.5" text-anchor="end" font-weight="bold" fill="#111" stroke="#111" stroke-width="0.3" >0.6</text>
<line x1="310.20" y1="269.43" x2="311.80" y2="269.43" stroke="#1a1a1a" stroke-width="1.2" />
<line x1="308.30" y1="257.02" x2="311.80" y2="257.02" stroke="#1a1a1a" stroke-width="1.2" />
<text x="306.60" y="260.22" font-size="10.5" text-anchor="end" font-weight="bold" fill="#111" stroke="#111" stroke-width="0.3" >0.8</text>
<line x1="310.20" y1="244.61" x2="311.80" y2="244.61" stroke="#1a1a1a" stroke-width="1.2" />
<line x1="308.30" y1="232.20" x2="311.80" y2="232.20" stroke="#1a1a1a" stroke-width="1.2" />
<text x="306.60" y="235.40" font-size="10.5" text-anchor="end" font-weight="bold" fill="#111" stroke="#111" stroke-width="0.3" >1.0</text>
<line x1="318.75" y1="363.70" x2="318.75" y2="367.30" stroke="#1a1a1a" stroke-width="1.2" />
<text x="318.75" y="378.70" font-size="10.5" text-anchor="middle" font-weight="bold" fill="#111" stroke="#111" stroke-width="0.3" >0</text>
<line x1="340.27" y1="363.70" x2="340.27" y2="366.50" stroke="#1a1a1a" stroke-width="1.2" />
<line x1="361.78" y1="363.70" x2="361.78" y2="367.30" stroke="#1a1a1a" stroke-width="1.2" />
<text x="361.78" y="378.70" font-size="10.5" text-anchor="middle" font-weight="bold" fill="#111" stroke="#111" stroke-width="0.3" >40</text>
<line x1="383.30" y1="363.70" x2="383.30" y2="366.50" stroke="#1a1a1a" stroke-width="1.2" />
<line x1="404.81" y1="363.70" x2="404.81" y2="367.30" stroke="#1a1a1a" stroke-width="1.2" />
<text x="404.81" y="378.70" font-size="10.5" text-anchor="middle" font-weight="bold" fill="#111" stroke="#111" stroke-width="0.3" >80</text>
<line x1="426.33" y1="363.70" x2="426.33" y2="366.50" stroke="#1a1a1a" stroke-width="1.2" />
<line x1="447.85" y1="363.70" x2="447.85" y2="367.30" stroke="#1a1a1a" stroke-width="1.2" />
<text x="447.85" y="378.70" font-size="10.5" text-anchor="middle" font-weight="bold" fill="#111" stroke="#111" stroke-width="0.3" >120</text>
<line x1="469.36" y1="363.70" x2="469.36" y2="366.50" stroke="#1a1a1a" stroke-width="1.2" />
<line x1="490.88" y1="363.70" x2="490.88" y2="367.30" stroke="#1a1a1a" stroke-width="1.2" />
<text x="490.88" y="378.70" font-size="10.5" text-anchor="middle" font-weight="bold" fill="#111" stroke="#111" stroke-width="0.3" >160</text>
<line x1="512.39" y1="363.70" x2="512.39" y2="366.50" stroke="#1a1a1a" stroke-width="1.2" />
<text x="514.20" y="236.80" font-size="9.6" text-anchor="end" font-weight="bold" fill="#111" stroke="#111" stroke-width="0.3" >5A-mAPC</text>
<text transform="translate(284.50,292.90) rotate(-90)" font-size="11.2" text-anchor="middle" font-weight="bold" fill="#111" stroke="#111" stroke-width="0.3">Survival</text>
<text x="415.50" y="392.20" font-size="9.7" text-anchor="middle" font-weight="bold" fill="#111" stroke="#111" stroke-width="0.3" >Time (hrs)</text>
<polyline points="318.80,232.80 361.60,232.80 361.60,251.20 372.00,251.20 372.00,262.30 392.30,262.30 392.30,274.60 402.30,274.60 402.30,291.60 500.50,291.60 500.50,291.60" fill="none" stroke="#111" stroke-width="1.5" stroke-dasharray="4.6,3.4"/>
<path d="M358.30,253.34 L361.60,247.40 L364.90,253.34 Z" fill="#111" stroke="none"/>
<path d="M368.70,264.44 L372.00,258.50 L375.30,264.44 Z" fill="#111" stroke="none"/>
<path d="M389.00,276.74 L392.30,270.80 L395.60,276.74 Z" fill="#111" stroke="none"/>
<path d="M399.00,293.74 L402.30,287.80 L405.60,293.74 Z" fill="#111" stroke="none"/>
<path d="M497.20,293.74 L500.50,287.80 L503.80,293.74 Z" fill="#111" stroke="none"/>
<polyline points="318.80,231.60 345.50,231.60 345.50,238.50 355.40,238.50 355.40,247.30 367.70,247.30 367.70,262.30 371.50,262.30 371.50,290.80 390.50,290.80 390.50,307.00 394.20,307.00 394.20,326.00 399.00,326.00 399.00,331.50 418.00,331.50 418.00,338.80 500.50,338.80 500.50,338.80" fill="none" stroke="#111" stroke-width="1.5" />
<circle cx="345.50" cy="238.50" r="2.5" fill="#111" stroke="#111" stroke-width="0"/>
<circle cx="355.40" cy="247.30" r="2.5" fill="#111" stroke="#111" stroke-width="0"/>
<circle cx="367.70" cy="262.30" r="2.5" fill="#111" stroke="#111" stroke-width="0"/>
<circle cx="371.50" cy="290.80" r="2.5" fill="#111" stroke="#111" stroke-width="0"/>
<circle cx="390.50" cy="307.00" r="2.5" fill="#111" stroke="#111" stroke-width="0"/>
<circle cx="394.20" cy="326.00" r="2.5" fill="#111" stroke="#111" stroke-width="0"/>
<circle cx="399.00" cy="331.50" r="2.5" fill="#111" stroke="#111" stroke-width="0"/>
<circle cx="418.00" cy="338.80" r="2.5" fill="#111" stroke="#111" stroke-width="0"/>
<circle cx="500.50" cy="338.80" r="2.5" fill="#111" stroke="#111" stroke-width="0"/>
<polyline points="318.80,230.80 357.70,230.80 357.70,239.60 368.50,239.60 368.50,262.30 404.60,262.30 404.60,283.00 419.20,283.00 419.20,290.30 500.50,290.30 500.50,290.30" fill="none" stroke="#111" stroke-width="1.5" />
<rect x="355.10" y="237.00" width="5.2" height="5.2" fill="#111" stroke="#111" stroke-width="0"/>
<rect x="365.90" y="259.70" width="5.2" height="5.2" fill="#111" stroke="#111" stroke-width="0"/>
<rect x="402.00" y="280.40" width="5.2" height="5.2" fill="#111" stroke="#111" stroke-width="0"/>
<rect x="416.60" y="287.70" width="5.2" height="5.2" fill="#111" stroke="#111" stroke-width="0"/>
<rect x="497.90" y="287.70" width="5.2" height="5.2" fill="#111" stroke="#111" stroke-width="0"/>
<line x1="40.00" y1="419.80" x2="250.20" y2="419.80" stroke="#1a1a1a" stroke-width="1.4" />
<line x1="250.20" y1="419.80" x2="250.20" y2="557.00" stroke="#1a1a1a" stroke-width="1.4" />
<line x1="40.00" y1="419.80" x2="40.00" y2="557.60" stroke="#1a1a1a" stroke-width="1.4" />
<line x1="39.40" y1="557.00" x2="250.80" y2="557.00" stroke="#1a1a1a" stroke-width="1.4" />
<text x="-0.70" y="436.70" font-size="24" text-anchor="start" font-weight="bold" fill="#111" stroke="#111" stroke-width="0.3" >E</text>
<line x1="36.50" y1="549.60" x2="40.00" y2="549.60" stroke="#1a1a1a" stroke-width="1.2" />
<text x="33.80" y="552.80" font-size="9.0" text-anchor="end" font-weight="bold" fill="#111" stroke="#111" stroke-width="0.3" >0</text>
<line x1="38.40" y1="537.35" x2="40.00" y2="537.35" stroke="#1a1a1a" stroke-width="1.2" />
<line x1="36.50" y1="525.10" x2="40.00" y2="525.10" stroke="#1a1a1a" stroke-width="1.2" />
<text x="33.80" y="528.30" font-size="9.0" text-anchor="end" font-weight="bold" fill="#111" stroke="#111" stroke-width="0.3" >0.2</text>
<line x1="38.40" y1="512.85" x2="40.00" y2="512.85" stroke="#1a1a1a" stroke-width="1.2" />
<line x1="36.50" y1="500.60" x2="40.00" y2="500.60" stroke="#1a1a1a" stroke-width="1.2" />
<text x="33.80" y="503.80" font-size="9.0" text-anchor="end" font-weight="bold" fill="#111" stroke="#111" stroke-width="0.3" >0.4</text>
<line x1="38.40" y1="488.35" x2="40.00" y2="488.35" stroke="#1a1a1a" stroke-width="1.2" />
<line x1="36.50" y1="476.10" x2="40.00" y2="476.10" stroke="#1a1a1a" stroke-width="1.2" />
<text x="33.80" y="479.30" font-size="9.0" text-anchor="end" font-weight="bold" fill="#111" stroke="#111" stroke-width="0.3" >0.6</text>
<line x1="38.40" y1="463.85" x2="40.00" y2="463.85" stroke="#1a1a1a" stroke-width="1.2" />
<line x1="36.50" y1="451.60" x2="40.00" y2="451.60" stroke="#1a1a1a" stroke-width="1.2" />
<text x="33.80" y="454.80" font-size="9.0" text-anchor="end" font-weight="bold" fill="#111" stroke="#111" stroke-width="0.3" >0.8</text>
<line x1="38.40" y1="439.35" x2="40.00" y2="439.35" stroke="#1a1a1a" stroke-width="1.2" />
<line x1="36.50" y1="427.10" x2="40.00" y2="427.10" stroke="#1a1a1a" stroke-width="1.2" />
<text x="33.80" y="430.30" font-size="9.0" text-anchor="end" font-weight="bold" fill="#111" stroke="#111" stroke-width="0.3" >1.0</text>
<line x1="47.00" y1="557.00" x2="47.00" y2="560.60" stroke="#1a1a1a" stroke-width="1.2" />
<text x="47.00" y="570.20" font-size="9.0" text-anchor="middle" font-weight="bold" fill="#111" stroke="#111" stroke-width="0.3" >0</text>
<line x1="68.80" y1="557.00" x2="68.80" y2="559.80" stroke="#1a1a1a" stroke-width="1.2" />
<line x1="90.60" y1="557.00" x2="90.60" y2="560.60" stroke="#1a1a1a" stroke-width="1.2" />
<text x="90.60" y="570.20" font-size="9.0" text-anchor="middle" font-weight="bold" fill="#111" stroke="#111" stroke-width="0.3" >40</text>
<line x1="112.40" y1="557.00" x2="112.40" y2="559.80" stroke="#1a1a1a" stroke-width="1.2" />
<line x1="134.20" y1="557.00" x2="134.20" y2="560.60" stroke="#1a1a1a" stroke-width="1.2" />
<text x="134.20" y="570.20" font-size="9.0" text-anchor="middle" font-weight="bold" fill="#111" stroke="#111" stroke-width="0.3" >80</text>
<line x1="156.00" y1="557.00" x2="156.00" y2="559.80" stroke="#1a1a1a" stroke-width="1.2" />
<line x1="177.80" y1="557.00" x2="177.80" y2="560.60" stroke="#1a1a1a" stroke-width="1.2" />
<text x="177.80" y="570.20" font-size="9.0" text-anchor="middle" font-weight="bold" fill="#111" stroke="#111" stroke-width="0.3" >120</text>
<line x1="199.60" y1="557.00" x2="199.60" y2="559.80" stroke="#1a1a1a" stroke-width="1.2" />
<line x1="221.40" y1="557.00" x2="221.40" y2="560.60" stroke="#1a1a1a" stroke-width="1.2" />
<text x="221.40" y="570.20" font-size="9.0" text-anchor="middle" font-weight="bold" fill="#111" stroke="#111" stroke-width="0.3" >160</text>
<line x1="243.20" y1="557.00" x2="243.20" y2="559.80" stroke="#1a1a1a" stroke-width="1.2" />
<text x="243.50" y="432.10" font-size="9.2" text-anchor="end" font-weight="bold" fill="#111" stroke="#111" stroke-width="0.3" >wt-mAPC</text>
<text transform="translate(17.80,486.80) rotate(-90)" font-size="9.9" text-anchor="middle" font-weight="bold" fill="#111" stroke="#111" stroke-width="0.3">Survival</text>
<text x="141.85" y="582.30" font-size="9.7" text-anchor="middle" font-weight="bold" fill="#111" stroke="#111" stroke-width="0.3" >Time (hrs)</text>
<polyline points="43.00,430.60 86.80,430.60 86.80,464.30 96.20,464.30 96.20,502.00 132.50,502.00 132.50,526.30 179.20,526.30 179.20,539.20 232.80,539.20 232.80,539.20" fill="none" stroke="#111" stroke-width="1.4" stroke-dasharray="0.9,0.7"/>
<path d="M83.90,464.30 L86.80,461.40 L89.70,464.30 L86.80,467.20 Z" fill="#111" stroke="#111" stroke-width="0"/>
<path d="M93.30,502.00 L96.20,499.10 L99.10,502.00 L96.20,504.90 Z" fill="#111" stroke="#111" stroke-width="0"/>
<path d="M129.60,526.30 L132.50,523.40 L135.40,526.30 L132.50,529.20 Z" fill="#111" stroke="#111" stroke-width="0"/>
<path d="M176.30,539.20 L179.20,536.30 L182.10,539.20 L179.20,542.10 Z" fill="#111" stroke="#111" stroke-width="0"/>
<path d="M229.90,539.20 L232.80,536.30 L235.70,539.20 L232.80,542.10 Z" fill="#111" stroke="#111" stroke-width="0"/>
<polyline points="43.00,428.20 88.30,428.20 88.30,449.00 95.40,449.00 95.40,482.30 127.70,482.30 127.70,487.80 232.80,487.80 232.80,487.80" fill="none" stroke="#111" stroke-width="1.5" stroke-dasharray="4.6,3.4"/>
<path d="M85.00,451.14 L88.30,445.20 L91.60,451.14 Z" fill="#111" stroke="none"/>
<path d="M92.10,484.44 L95.40,478.50 L98.70,484.44 Z" fill="#111" stroke="none"/>
<path d="M124.40,489.94 L127.70,484.00 L131.00,489.94 Z" fill="#111" stroke="none"/>
<path d="M229.50,489.94 L232.80,484.00 L236.10,489.94 Z" fill="#111" stroke="none"/>
<polyline points="43.00,425.70 77.70,425.70 77.70,433.30 86.60,433.30 86.60,438.70 92.50,438.70 92.50,457.90 95.30,457.90 95.30,464.40 95.60,464.40 95.60,482.50 120.60,482.50 120.60,501.20 121.80,501.20 121.80,519.40 126.30,519.40 126.30,526.00 147.60,526.00 147.60,531.50 232.80,531.50 232.80,531.50" fill="none" stroke="#111" stroke-width="1.5" />
<circle cx="77.70" cy="433.30" r="2.5" fill="#111" stroke="#111" stroke-width="0"/>
<circle cx="86.60" cy="438.70" r="2.5" fill="#111" stroke="#111" stroke-width="0"/>
<circle cx="92.50" cy="457.90" r="2.5" fill="#111" stroke="#111" stroke-width="0"/>
<circle cx="95.30" cy="464.40" r="2.5" fill="#111" stroke="#111" stroke-width="0"/>
<circle cx="120.60" cy="501.20" r="2.5" fill="#111" stroke="#111" stroke-width="0"/>
<circle cx="121.80" cy="519.40" r="2.5" fill="#111" stroke="#111" stroke-width="0"/>
<circle cx="126.30" cy="526.00" r="2.5" fill="#111" stroke="#111" stroke-width="0"/>
<circle cx="147.60" cy="531.50" r="2.5" fill="#111" stroke="#111" stroke-width="0"/>
<circle cx="232.80" cy="531.50" r="2.5" fill="#111" stroke="#111" stroke-width="0"/>
<polyline points="43.00,423.80 96.00,423.80 96.00,466.40 130.50,466.40 130.50,477.00 146.20,477.00 146.20,489.20 232.80,489.20 232.80,489.20" fill="none" stroke="#111" stroke-width="1.5" />
<rect x="93.40" y="463.80" width="5.2" height="5.2" fill="#111" stroke="#111" stroke-width="0"/>
<rect x="127.90" y="474.40" width="5.2" height="5.2" fill="#111" stroke="#111" stroke-width="0"/>
<rect x="143.60" y="486.60" width="5.2" height="5.2" fill="#111" stroke="#111" stroke-width="0"/>
<rect x="230.20" y="486.60" width="5.2" height="5.2" fill="#111" stroke="#111" stroke-width="0"/>
</svg>
</body></html>
